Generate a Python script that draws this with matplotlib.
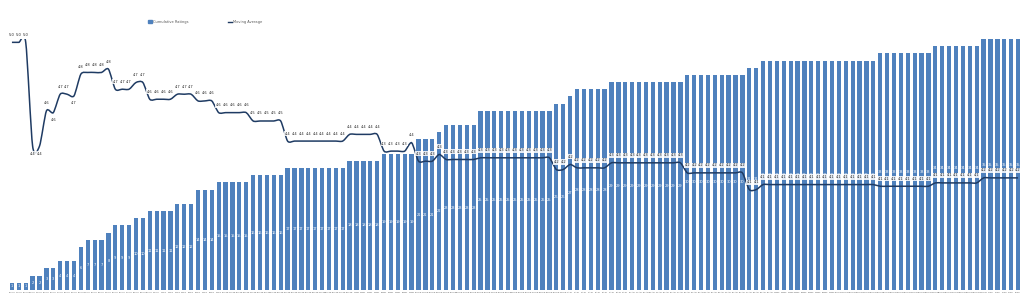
import matplotlib
matplotlib.use('Agg')
import matplotlib.pyplot as plt
from matplotlib.path import Path
from matplotlib.patches import PathPatch, Patch
from matplotlib.lines import Line2D
import pandas as pd

# cumulative count of ratings per day
ratings = ([1] * 3 + [2] * 2 + [3] * 2 + [4] * 3 + [6] + [7] * 3 + [8] + [9] * 3 +
           [10] * 2 + [11] * 4 + [12] * 3 + [14] * 3 + [15] * 5 + [16] * 5 + [17] * 9 +
           [18] * 5 + [19] * 5 + [21] * 3 + [22] + [23] * 5 + [25] * 11 + [26] * 2 + [27] +
           [28] * 5 + [29] * 11 + [30] * 9 + [31] * 2 + [32] * 17 + [33] * 8 + [34] * 7 +
           [35] * 6)

# moving average of the rating
moving_avg = ([4.98, 4.98, 4.98, 4.36, 4.36, 4.57, 4.56, 4.67, 4.67, 4.66,
               4.79, 4.80, 4.80, 4.80, 4.82] + [4.70] * 3 + [4.74] * 2 + [4.64] * 4 +
              [4.67] * 3 + [4.63] * 3 + [4.56] * 5 + [4.51] * 5 + [4.39] * 9 +
              [4.43] * 5 + [4.33] * 4 + [4.38] + [4.27] * 3 + [4.31] + [4.28] * 5 +
              [4.29] * 11 + [4.22] * 2 + [4.25] + [4.23] * 5 + [4.26] * 11 +
              [4.20] * 9 + [4.10] * 2 + [4.13] * 17 + [4.12] * 8 + [4.14] * 7 +
              [4.17] * 6)

days = pd.date_range('2019-01-10', periods=len(ratings))
day_labels = [f"{d.day}-{d.strftime('%b')}" for d in days]

# labels placed under the point instead of above
below = {3, 4, 6, 9}

bar_color = '#4F81BD'
line_color = '#1F3B63'

fig = plt.figure(figsize=(10.24, 3.02), dpi=100)
ax = fig.add_axes([8.5 / 1024, 12 / 302, 1013 / 1024, 251 / 302])
x = list(range(len(ratings)))
ax.bar(x, ratings, width=0.62, color=bar_color, zorder=2)
ax.set_xlim(-0.5, len(ratings) - 0.5)
ax.set_ylim(0, 35)
for xi, r in zip(x, ratings):
    ax.text(xi, r / 2, str(r), color='white', fontsize=2.6, ha='center', va='center', zorder=3)
ax.set_xticks(x)
ax.set_xticklabels(day_labels, fontsize=1.5, color='#595959')
ax.tick_params(axis='x', length=0, pad=1.5)
ax.set_yticks([])
for s in ax.spines.values():
    s.set_visible(False)

ax2 = ax.twinx()
ax2.set_ylim(3.5, 5.0)
ax2.set_yticks([])
for s in ax2.spines.values():
    s.set_visible(False)

# smoothed line, bezier through the points (softer than plain catmull-rom)
k = 1 / 8
pts = list(zip(x, moving_avg))
verts = [pts[0]]
codes = [Path.MOVETO]
n = len(pts)
for i in range(n - 1):
    p0 = pts[max(i - 1, 0)]
    p1 = pts[i]
    p2 = pts[i + 1]
    p3 = pts[min(i + 2, n - 1)]
    c1 = (p1[0] + (p2[0] - p0[0]) * k, p1[1] + (p2[1] - p0[1]) * k)
    c2 = (p2[0] - (p3[0] - p1[0]) * k, p2[1] - (p3[1] - p1[1]) * k)
    verts += [c1, c2, p2]
    codes += [Path.CURVE4] * 3
ax2.add_patch(PathPatch(Path(verts, codes), fc='none', ec=line_color, lw=1.1, zorder=4))

for xi, v in zip(x, moving_avg):
    off = -4 if xi in below else 4
    ax2.annotate(f"{v:.1f}", (xi, v), xytext=(0, off), textcoords='offset points',
                 ha='center', va='top' if xi in below else 'bottom', fontsize=2.6,
                 color='#262626', zorder=5,
                 bbox=dict(boxstyle='square,pad=0.15', fc='white', ec='none', alpha=0.85))

handles = [Patch(color=bar_color), Line2D([0], [0], color=line_color, lw=1)]
fig.legend(handles, ['Cumulative Ratings', 'Moving Average'], loc='center left',
           bbox_to_anchor=(145 / 1024, 1 - 22 / 302), ncol=2, frameon=False,
           fontsize=2.6, columnspacing=11, handlelength=1.0, handleheight=0.7,
           handletextpad=0.3, labelcolor='#595959')

plt.savefig('out.png', dpi=100)
